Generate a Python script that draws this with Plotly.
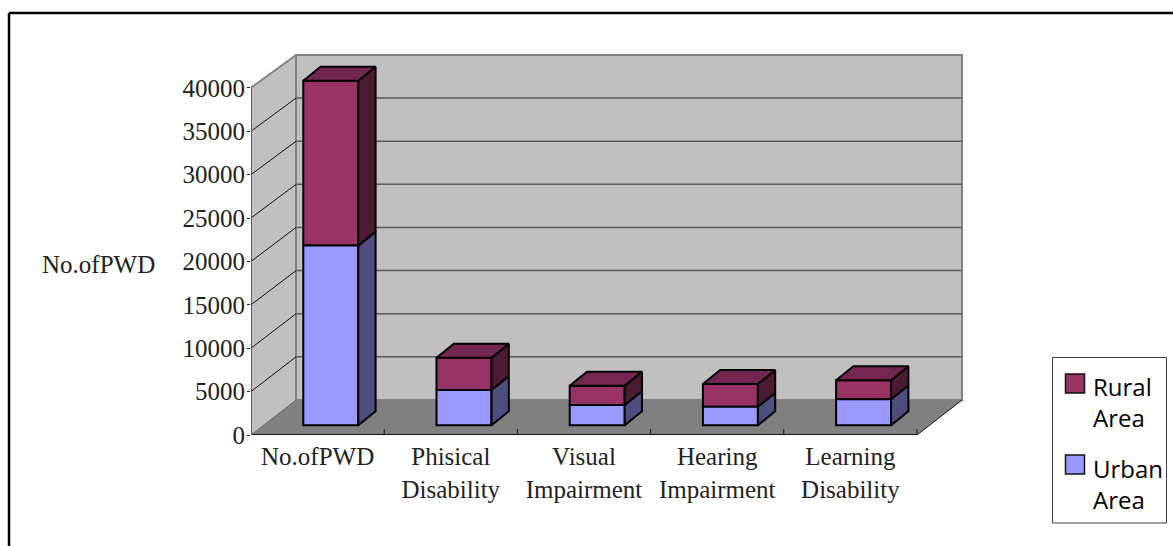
import plotly.graph_objects as go

categories = ["No.ofPWD", "Phisical<br>Disability", "Visual<br>Impairment", "Hearing<br>Impairment", "Learning<br>Disability"]
urban_area = [20700, 4070, 2340, 2140, 3000]
rural_area = [19000, 3720, 2220, 2620, 2180]
y_ticks = [0, 5000, 10000, 15000, 20000, 25000, 30000, 35000, 40000]

W, H = 1173, 546
PX_CAT = 133.2
PX_VAL = 43.4 / 5000
X0, Y0 = 251, 435
XR, YT = 966, 50


def px(p):
    return p / W


def py(p):
    return 1 - p / H


# pseudo-3D geometry in data units
WALL_DX = 45 / PX_CAT
WALL_DY = 35 / PX_VAL
WALL_SCALE = 345 / 347.2
BAR_W = 55 / PX_CAT
BAR_SHIFT = 13.2 / PX_CAT
BAR_BASE = 9.7 / PX_VAL
BAR_DX = 17.3 / PX_CAT
BAR_DY = 14 / PX_VAL

XL = -0.5
XE = len(categories) - 0.5

C_RURAL, C_RURAL_SIDE, C_RURAL_TOP = "#993366", "#4D1A33", "#732750"
C_URBAN, C_URBAN_SIDE = "#9999FF", "#4D4D80"
C_WALL, C_FLOOR = "#C0C0C0", "#808080"


def back(v):
    return v * WALL_SCALE + WALL_DY


def poly(pts):
    return "M" + " L".join(f"{x},{y}" for x, y in pts) + " Z"


shapes = []


def data_shape(**kw):
    shapes.append(dict(xref="x", yref="y", layer="below", **kw))


top = y_ticks[-1]
data_shape(type="path", path=poly([(XL, 0), (XL, top), (XL + WALL_DX, back(top)), (XL + WALL_DX, back(0))]),
           fillcolor=C_WALL, line=dict(color=C_WALL, width=0))
data_shape(type="path", path=poly([(XL + WALL_DX, back(0)), (XL + WALL_DX, back(top)), (XE + WALL_DX, back(top)), (XE + WALL_DX, back(0))]),
           fillcolor=C_WALL, line=dict(color=C_FLOOR, width=2))
data_shape(type="path", path=poly([(XL, 0), (XE, 0), (XE + WALL_DX, back(0)), (XL + WALL_DX, back(0))]),
           fillcolor=C_FLOOR, line=dict(color=C_FLOOR, width=0))
# top-left edge of side wall
data_shape(type="line", x0=XL, y0=top, x1=XL + WALL_DX, y1=back(top), line=dict(color=C_FLOOR, width=2))
# grid
for v in y_ticks[1:-1]:
    data_shape(type="line", x0=XL, y0=v, x1=XL + WALL_DX, y1=back(v), line=dict(color="#111111", width=1))
    data_shape(type="line", x0=XL + WALL_DX, y0=back(v), x1=XE + WALL_DX, y1=back(v), line=dict(color="#5A5A5A", width=1.5))
# axes
data_shape(type="line", x0=XL, y0=0, x1=XL, y1=top, line=dict(color="#404040", width=1.5))
data_shape(type="line", x0=XL, y0=0, x1=XE, y1=0, line=dict(color="#111111", width=2))
data_shape(type="line", x0=XE, y0=0, x1=XE + WALL_DX, y1=back(0), line=dict(color="#111111", width=1))
data_shape(type="line", x0=XL, y0=0, x1=XL + WALL_DX, y1=back(0), line=dict(color="#6A6A6A", width=1))
for i in range(1, len(categories) + 1):
    data_shape(type="line", x0=XL + i, y0=0, x1=XL + i, y1=6 / PX_VAL, line=dict(color="#111111", width=1))

# outer frame
shapes.append(dict(type="line", xref="paper", yref="paper", x0=px(9), x1=1, y0=py(13), y1=py(13), line=dict(color="black", width=2.5)))
shapes.append(dict(type="line", xref="paper", yref="paper", x0=px(9), x1=px(9), y0=py(13), y1=0, line=dict(color="black", width=2.5)))

# legend box
shapes.append(dict(type="rect", xref="paper", yref="paper", x0=px(1052.5), x1=px(1166.5), y0=py(523), y1=py(357.5),
                   fillcolor="white", line=dict(color="#404040", width=1)))
for ytop, col in [(374, C_RURAL), (455, C_URBAN)]:
    shapes.append(dict(type="rect", xref="paper", yref="paper", x0=px(1065.5), x1=px(1084.5), y0=py(ytop + 19), y1=py(ytop),
                       fillcolor=col, line=dict(color="#111111", width=1.5)))

fig = go.Figure()
xs = [i + BAR_SHIFT for i in range(len(categories))]
edge = dict(color="black", width=2)

fig.add_bar(x=xs, y=rural_area, base=[BAR_BASE + u for u in urban_area], width=BAR_W, name="Rural Area",
            marker=dict(color=C_RURAL, line=edge))
fig.add_bar(x=xs, y=urban_area, base=[BAR_BASE] * len(xs), width=BAR_W, name="Urban Area",
            marker=dict(color=C_URBAN, line=edge))


def face(pts, color):
    fig.add_scatter(x=[p[0] for p in pts] + [pts[0][0]], y=[p[1] for p in pts] + [pts[0][1]], mode="lines",
                    fill="toself", fillcolor=color, line=dict(color="black", width=2), hoverinfo="skip", showlegend=False)


for x, u, r in zip(xs, urban_area, rural_area):
    xr = x + BAR_W / 2
    xl = x - BAR_W / 2
    b0 = BAR_BASE
    b1 = BAR_BASE + u
    b2 = b1 + r
    face([(xr, b0), (xr + BAR_DX, b0 + BAR_DY), (xr + BAR_DX, b1 + BAR_DY), (xr, b1)], C_URBAN_SIDE)
    face([(xr, b1), (xr + BAR_DX, b1 + BAR_DY), (xr + BAR_DX, b2 + BAR_DY), (xr, b2)], C_RURAL_SIDE)
    face([(xl, b2), (xr, b2), (xr + BAR_DX, b2 + BAR_DY), (xl + BAR_DX, b2 + BAR_DY)], C_RURAL_TOP)

label_font = dict(family="Liberation Serif", size=25, color="#222222")
legend_font = dict(family="Open Sans", size=24, color="black")


def note(text, x, y, font, xanchor="left"):
    return dict(text=text, x=px(x), y=py(y), xref="paper", yref="paper", showarrow=False, font=font,
                xanchor=xanchor, yanchor="middle", align="left")


annotations = [
    note("No.ofPWD", 98, 264, label_font, "center"),
    note("Rural<br>Area", 1091, 402, legend_font),
    note("Urban<br>Area", 1091, 484, legend_font),
]

fig.update_layout(
    width=W, height=H, margin=dict(l=0, r=0, t=0, b=0, autoexpand=False), autosize=False,
    paper_bgcolor="white", plot_bgcolor="rgba(0,0,0,0)", showlegend=False,
    barmode="overlay", shapes=shapes, annotations=annotations,
    xaxis=dict(domain=[px(X0), px(XR)], range=[XL, XL + (XR - X0) / PX_CAT], tickmode="array",
               tickvals=list(range(len(categories))), ticktext=categories, ticks="", showgrid=False,
               zeroline=False, showline=False, tickfont=label_font, ticklabelstandoff=4,
               automargin=False),
    yaxis=dict(domain=[py(Y0), py(YT)], range=[0, (Y0 - YT) / PX_VAL], tickmode="array", tickvals=y_ticks,
               ticktext=[str(v) for v in y_ticks],
               ticks="outside", ticklen=3, tickcolor="#222222", showgrid=False, zeroline=False, showline=False,
               tickfont=label_font, ticklabelstandoff=-3, automargin=False),
)

fig.write_html("out.html", config={"displayModeBar": False, "responsive": False},
               post_script="document.body.style.margin='0';document.documentElement.style.overflow='hidden';")
